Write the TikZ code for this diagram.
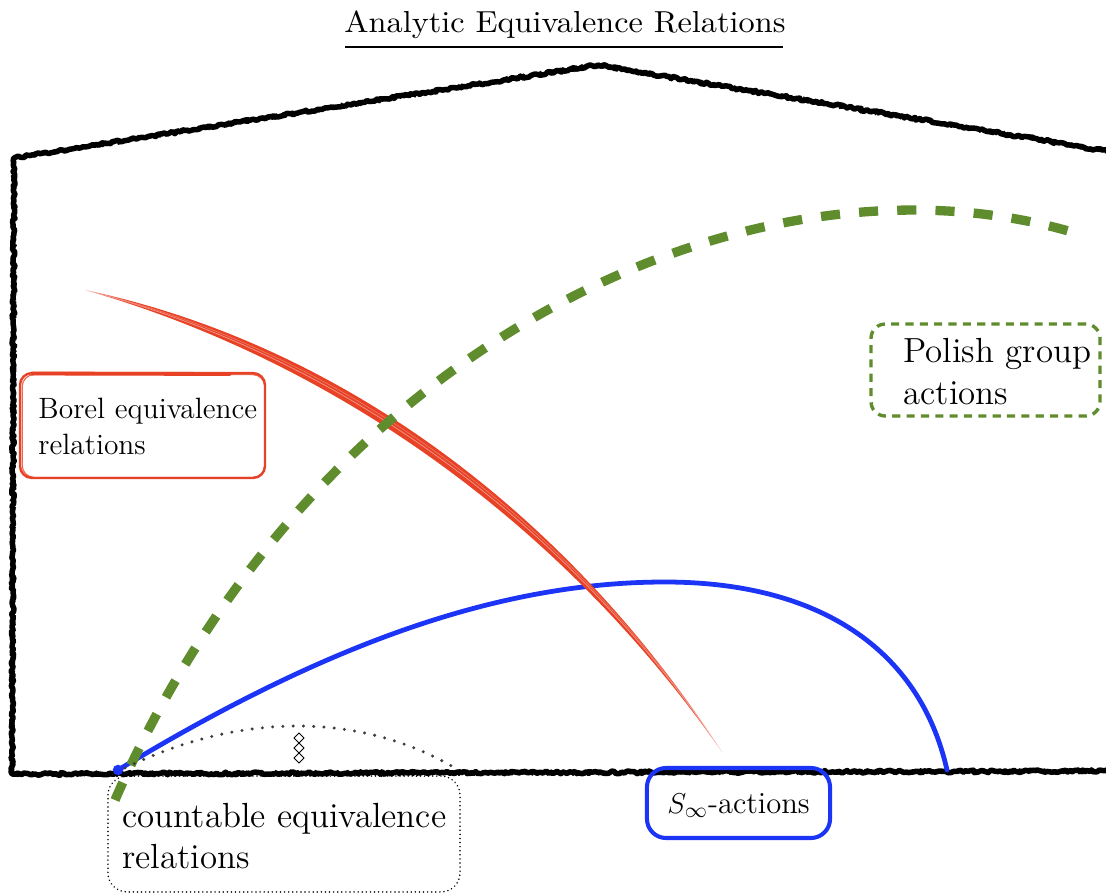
\documentclass[tikz,border=0pt]{standalone}
\usepackage{graphicx}
\usetikzlibrary{decorations.pathmorphing,shapes.geometric}
\definecolor{grn}{RGB}{95,140,44}
\definecolor{blu}{RGB}{28,52,245}
\definecolor{rd}{RGB}{232,66,38}
\definecolor{dotgray}{RGB}{60,60,60}
\begin{document}
\begin{tikzpicture}[x=0.4184pt,y=-0.4184pt,
  rough/.style={draw=black,line width=2.3pt,line join=round,decorate,
    decoration={random steps,segment length=1pt,amplitude=0.55pt}},
  roughfine/.style={draw=black,line width=0.7pt,line join=round,decorate,
    decoration={random steps,segment length=0.8pt,amplitude=1.1pt}},
  boxtext/.style={anchor=north west,inner sep=0pt,align=left},
  emptybox/.style={inner sep=0pt},
  borelstyle/.style={emptybox,draw=rd,line width=1pt,rounded corners=5pt},
  polishstyle/.style={emptybox,draw=grn,line width=1.4pt,dash pattern=on 3.4pt off 2.6pt,rounded corners=6pt},
  countstyle/.style={emptybox,draw=black,line width=0.7pt,dash pattern=on 0.01pt off 1.7pt,line cap=round,rounded corners=8pt},
  sinfstyle/.style={emptybox,draw=blu,line width=1.7pt,rounded corners=8pt},
  diam/.style={diamond,draw=black,fill=white,line width=0.4pt,inner sep=0pt,minimum width=4.4pt,minimum height=4.3pt}
]
\useasboundingbox (0,0) rectangle (1106,894);

% title
\node[anchor=base west,inner sep=0pt] (title) at (344,32)
  {\resizebox{184.5pt}{9.1pt}{Analytic Equivalence Relations}};
\coordinate (ulL) at (345,47);
\coordinate (ulR) at (783,47);
\draw[line width=0.8pt] (ulL) -- (ulR);

% house outline
\coordinate (hR) at (1112,152);
\coordinate (hT) at (598,65);
\coordinate (hL) at (14,158);
\coordinate (hBL) at (12,774);
\coordinate (hBR) at (1112,771);
\draw[rough] (hR) -- (hT) -- (hL) -- (hBL) -- (hBR);
\draw[roughfine] (hR) -- (hT) -- (hL) -- (hBL) -- (hBR);

% boxes
\node[borelstyle,minimum width=102.5pt,minimum height=43.9pt] (borelbox) at (142.5,425.5) {};
\node[borelstyle,line width=0.5pt,minimum width=101.5pt,minimum height=43pt,opacity=0.8] (borelbox2) at (143.5,426) {};
\coordinate (bt1) at (32,373.5);
\coordinate (bt2) at (230,374);
\draw[rd,line width=1.6pt,line cap=round] (bt1) -- (bt2);
\node[polishstyle,minimum width=95.8pt,minimum height=38.5pt] (polishbox) at (985.5,370) {};
\node[countstyle,minimum width=147.3pt,minimum height=48.5pt] (countbox) at (284,834) {};
\node[sinfstyle,minimum width=76.6pt,minimum height=29.3pt] (sinfbox) at (738.5,803) {};

% blue curve
\coordinate (bS) at (118,770);
\coordinate (bP) at (665,582);
\coordinate (bE) at (947,770);
\draw[blu,line width=2pt,line cap=round] (bS) .. controls (300,660) and (480,582) .. (bP)
  .. controls (820,582) and (920,650) .. (bE);
\fill[blu] (bS) circle[radius=2.2pt];

% red curve
\coordinate (rS) at (85,290);
\coordinate (rE) at (722,752);
\fill[rd] (rS) .. controls (330,360) and (560,520) .. (rE) .. controls (566,511) and (337,343) .. (rS);
\draw[white,opacity=0.45,line width=0.3pt] (rS) .. controls (332,353) and (563,515) .. (rE);
\draw[white,opacity=0.3,line width=0.25pt] (rS) .. controls (334,349) and (565,513) .. (rE);

% green dashed curve
\coordinate (gS) at (115,800);
\coordinate (gE) at (1085,236);
\draw[grn,line width=3.9pt,dash pattern=on 8pt off 8pt] (gS) .. controls (320,330) and (770,135) .. (gE);

% dotted arc with diamonds
\coordinate (dS) at (125,768);
\coordinate (dE) at (455,768);
\draw[dotgray,line width=1.4pt,line cap=round,dash pattern=on 0pt off 4.3pt] (dS) .. controls (240,712) and (360,712) .. (dE);
\node[diam] (d1) at (299,738) {};
\node[diam] (d2) at (299,748) {};
\node[diam] (d3) at (299,758) {};

% texts
\node[boxtext,font=\fontsize{12.3}{15}\selectfont] (borel) at (38,398) {Borel equivalence\\relations};
\node[boxtext,font=\fontsize{14.6}{17.6}\selectfont] (polish) at (903,338) {Polish group\\actions};
\node[boxtext,font=\fontsize{14.6}{17.2}\selectfont] (count) at (122,803) {countable equivalence\\relations};
\node[anchor=base west,inner sep=0pt,font=\fontsize{12.8}{15}\selectfont] (sinf) at (667,813) {$S_\infty$-actions};
\end{tikzpicture}
\end{document}
